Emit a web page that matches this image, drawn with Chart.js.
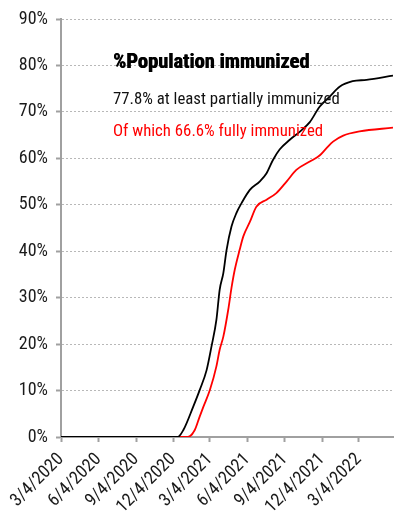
<!DOCTYPE html>
<html>
<head>
<meta charset="utf-8">
<script src="https://cdn.jsdelivr.net/npm/chart.js@4"></script>
<style>
  html, body { margin: 0; padding: 0; background: #fff; }
</style>
</head>
<body>
<canvas id="chart" width="402" height="523"></canvas>
<script>
// Dates on the x axis (days counted from 3/4/2020)
const xTickDays = [0, 92, 184, 275, 365, 457, 549, 640, 730];
const xTickLabels = ['3/4/2020', '6/4/2020', '9/4/2020', '12/4/2020', '3/4/2021',
                     '6/4/2021', '9/4/2021', '12/4/2021', '3/4/2022'];
const lastDay = 814;

// At least partially immunized (% of population)
const partialDays = [0, 286, 300, 324, 340, 357, 369, 381, 389, 398, 406, 418, 430, 443,
                     463, 487, 504, 520, 536, 561, 585, 610, 634, 659, 683, 715, 749, 814];
const partialPct = [0, 0, 1.5, 6.5, 10.1, 14.4, 19.5, 25.2, 31.7, 35.3, 40.3, 45.3, 48.2, 50.4,
                    53.2, 55.0, 56.8, 59.7, 61.9, 64.0, 65.7, 67.8, 71.1, 73.3, 75.4, 76.6, 76.9, 77.8];

// Fully immunized (% of population)
const fullDays = [0, 311, 328, 340, 349, 365, 381, 389, 398, 410, 418, 426, 438, 447,
                  463, 479, 504, 528, 553, 577, 610, 634, 651, 667, 692, 732, 814];
const fullPct = [0, 0, 1.5, 4.4, 6.5, 10.1, 15.2, 18.8, 21.6, 27.4, 32.1, 36.0, 40.3, 43.2,
                 46.3, 49.6, 51.1, 52.5, 55.0, 57.5, 59.3, 60.6, 62.2, 63.6, 64.9, 65.8, 66.6];

const yTicks = [0, 10, 20, 30, 40, 50, 60, 70, 80, 90];

const titleText = '%Population immunized';
const line2Text = '77.8% at least partially immunized';
const line3Text = 'Of which 66.6% fully immunized';

const fam = "'Roboto Condensed', 'Open Sans', sans-serif";
Chart.defaults.font.family = fam;
Chart.defaults.color = '#1a1a1a';

function toPoints(days, vals) {
  return days.map((d, i) => ({ x: d, y: vals[i] }));
}

// text block inside the plot
const notes = {
  id: 'notes',
  afterDatasetsDraw(chart) {
    const { ctx, chartArea, scales } = chart;
    const x0 = chartArea.left + 52;
    ctx.save();
    ctx.textAlign = 'left';
    ctx.textBaseline = 'middle';
    ctx.fillStyle = '#000';
    ctx.font = 'bold 20.5px ' + fam;
    ctx.fillText(titleText, x0, scales.y.getPixelForValue(80.6));
    ctx.fillText(titleText, x0 + 0.6, scales.y.getPixelForValue(80.6) + 0.5);
    ctx.font = '16.8px ' + fam;
    ctx.fillStyle = '#111';
    ctx.fillText(line2Text, x0, scales.y.getPixelForValue(72.6));
    ctx.fillStyle = '#ff0000';
    ctx.fillText(line3Text, x0, scales.y.getPixelForValue(65.7));
    ctx.restore();
  }
};

new Chart(document.getElementById('chart'), {
  type: 'line',
  data: {
    datasets: [
      {
        label: 'At least partially',
        data: toPoints(partialDays, partialPct),
        borderColor: '#000000',
        borderWidth: 1.8,
        pointRadius: 0,
        cubicInterpolationMode: 'monotone',
        fill: false
      },
      {
        label: 'Fully',
        data: toPoints(fullDays, fullPct),
        borderColor: '#ff0000',
        borderWidth: 1.8,
        pointRadius: 0,
        cubicInterpolationMode: 'monotone',
        fill: false
      }
    ]
  },
  options: {
    responsive: false,
    animation: false,
    layout: { padding: { top: 19, right: 9, left: 0, bottom: 0 } },
    plugins: { legend: { display: false }, tooltip: { enabled: false } },
    scales: {
      x: {
        type: 'linear',
        min: 0,
        max: lastDay,
        afterBuildTicks: (scale) => { scale.ticks = xTickDays.map(v => ({ value: v })); },
        afterFit: (scale) => { scale.height = 86; },
        ticks: {
          autoSkip: false,
          maxRotation: 45,
          minRotation: 45,
          padding: 7,
          font: { size: 18 },
          callback: (v) => xTickLabels[xTickDays.indexOf(v)]
        },
        grid: {
          drawOnChartArea: false,
          drawTicks: true,
          tickLength: 5,
          tickColor: '#a0a0a0',
          tickWidth: 2
        },
        border: { color: '#a0a0a0', width: 2 }
      },
      y: {
        min: 0,
        max: 90,
        afterBuildTicks: (scale) => { scale.ticks = yTicks.map(v => ({ value: v })); },
        afterFit: (scale) => { scale.width = 61; },
        ticks: {
          padding: 8,
          font: { size: 18 },
          callback: (v) => v + '%'
        },
        grid: {
          color: '#b8b8b8',
          lineWidth: 1,
          tickLength: 5,
          tickColor: '#a0a0a0',
          tickWidth: 2,
          tickBorderDash: []
        },
        border: { color: '#a0a0a0', width: 2, dash: [2, 2] }
      }
    }
  },
  plugins: [notes]
});
</script>
</body>
</html>
